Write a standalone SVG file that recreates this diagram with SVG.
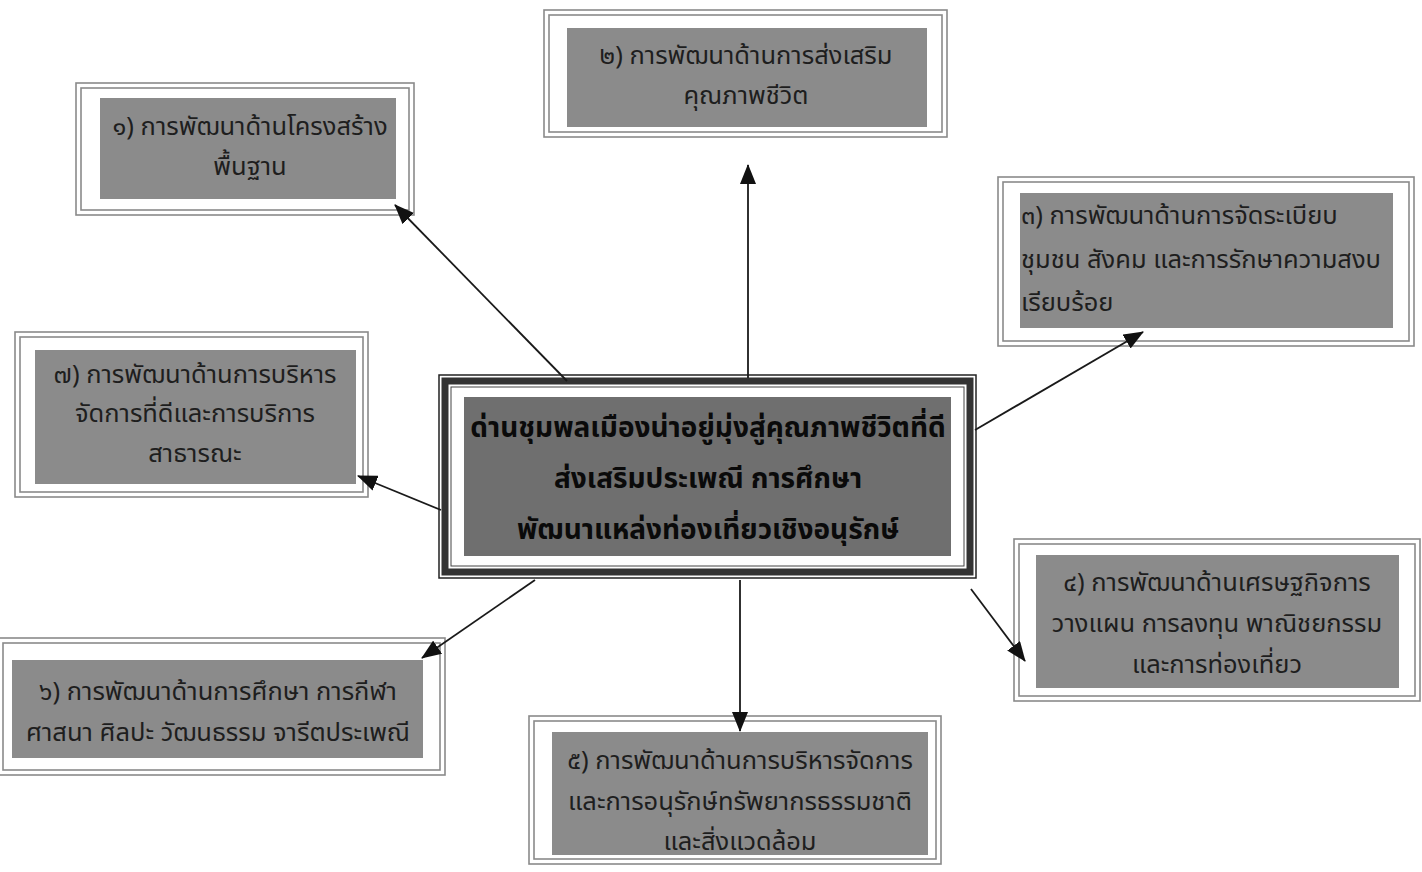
<svg xmlns="http://www.w3.org/2000/svg" width="1422" height="872" viewBox="0 0 1422 872">
<defs>
<style>
.f1{fill:#fff;stroke:#8a8a8a;stroke-width:1.6}
.f2{fill:none;stroke:#8a8a8a;stroke-width:1.6}
.g{fill:#8b8b8b}
.t{font-family:"Noto Sans Thai","Noto Sans","DejaVu Sans",sans-serif;font-size:25.5px;fill:#1e1e1e}
.c{text-anchor:middle}
.ct{font-family:"Noto Sans Thai","Noto Sans","DejaVu Sans",sans-serif;font-size:28px;font-weight:bold;fill:#0a0a0a;text-anchor:middle}
.ln{stroke:#1a1a1a;stroke-width:1.8;fill:none;marker-end:url(#ah)}
</style>
<marker id="ah" viewBox="0 0 20 16" refX="19" refY="8" markerWidth="20" markerHeight="16" markerUnits="userSpaceOnUse" orient="auto">
<path d="M0,0 L20,8 L0,16 Z" fill="#111"/>
</marker>
</defs>
<rect width="1422" height="872" fill="#fff"/>

<g id="center">
<rect x="439" y="375" width="537" height="203" fill="#fff" stroke="#222" stroke-width="1.5"/>
<rect x="445" y="381" width="525" height="191" fill="none" stroke="#333" stroke-width="7"/>
<rect x="451" y="387" width="513" height="179" fill="#fff" stroke="#444" stroke-width="1"/>
<rect x="464" y="397" width="487" height="159" fill="#6f6f6f"/>
<text class="ct" x="708" y="437">ด่านชุมพลเมืองน่าอยู่มุ่งสู่คุณภาพชีวิตที่ดี</text>
<text class="ct" x="708" y="488">ส่งเสริมประเพณี การศึกษา</text>
<text class="ct" x="708" y="539">พัฒนาแหล่งท่องเที่ยวเชิงอนุรักษ์</text>
</g>

<g id="box1">
<rect class="f1" x="76" y="83" width="338" height="132"/>
<rect class="f2" x="81" y="88" width="328" height="122"/>
<rect class="g" x="100" y="98" width="296" height="101"/>
<text class="t c" x="250" y="135">๑) การพัฒนาด้านโครงสร้าง</text>
<text class="t c" x="250" y="175">พื้นฐาน</text>
</g>

<g id="box2">
<rect class="f1" x="544" y="10" width="403" height="127"/>
<rect class="f2" x="549" y="15" width="393" height="117"/>
<rect class="g" x="567" y="28" width="360" height="99"/>
<text class="t c" x="746" y="64">๒) การพัฒนาด้านการส่งเสริม</text>
<text class="t c" x="746" y="104">คุณภาพชีวิต</text>
</g>

<g id="box3">
<rect class="f1" x="998" y="177" width="416" height="169"/>
<rect class="f2" x="1003" y="182" width="406" height="159"/>
<rect class="g" x="1020" y="193" width="373" height="135"/>
<text class="t" x="1021" y="224">๓) การพัฒนาด้านการจัดระเบียบ</text>
<text class="t" x="1021" y="268">ชุมชน สังคม และการรักษาความสงบ</text>
<text class="t" x="1021" y="311">เรียบร้อย</text>
</g>

<g id="box7">
<rect class="f1" x="15" y="332" width="353" height="165"/>
<rect class="f2" x="20" y="337" width="343" height="155"/>
<rect class="g" x="35" y="350" width="321" height="134"/>
<text class="t c" x="195" y="383">๗) การพัฒนาด้านการบริหาร</text>
<text class="t c" x="195" y="422">จัดการที่ดีและการบริการ</text>
<text class="t c" x="195" y="462">สาธารณะ</text>
</g>

<g id="box4">
<rect class="f1" x="1014" y="539" width="406" height="162"/>
<rect class="f2" x="1019" y="544" width="396" height="152"/>
<rect class="g" x="1036" y="555" width="363" height="133"/>
<text class="t c" x="1217" y="591">๔) การพัฒนาด้านเศรษฐกิจการ</text>
<text class="t c" x="1217" y="632">วางแผน การลงทุน พาณิชยกรรม</text>
<text class="t c" x="1217" y="673">และการท่องเที่ยว</text>
</g>

<g id="box6">
<rect class="f1" x="-2" y="638" width="447" height="137"/>
<rect class="f2" x="3" y="643" width="437" height="127"/>
<rect class="g" x="12" y="660" width="411" height="98"/>
<text class="t c" x="218" y="700">๖) การพัฒนาด้านการศึกษา การกีฬา</text>
<text class="t c" x="218" y="741">ศาสนา ศิลปะ วัฒนธรรม จารีตประเพณี</text>
</g>

<g id="box5">
<rect class="f1" x="529" y="716" width="412" height="148"/>
<rect class="f2" x="534" y="721" width="402" height="138"/>
<rect class="g" x="552" y="732" width="376" height="123"/>
<text class="t c" x="740" y="769">๕) การพัฒนาด้านการบริหารจัดการ</text>
<text class="t c" x="740" y="810">และการอนุรักษ์ทรัพยากรธรรมชาติ</text>
<text class="t c" x="740" y="850">และสิ่งแวดล้อม</text>
</g>

<g id="connectors">
<line class="ln" x1="567" y1="381" x2="395" y2="205"/>
<line class="ln" x1="748" y1="378" x2="748" y2="165"/>
<line class="ln" x1="975" y1="430" x2="1143" y2="332"/>
<line class="ln" x1="441" y1="510" x2="358" y2="476"/>
<line class="ln" x1="535" y1="580" x2="422" y2="658"/>
<line class="ln" x1="740" y1="580" x2="740" y2="731"/>
<line class="ln" x1="971" y1="589" x2="1025" y2="661"/>
</g>
</svg>
